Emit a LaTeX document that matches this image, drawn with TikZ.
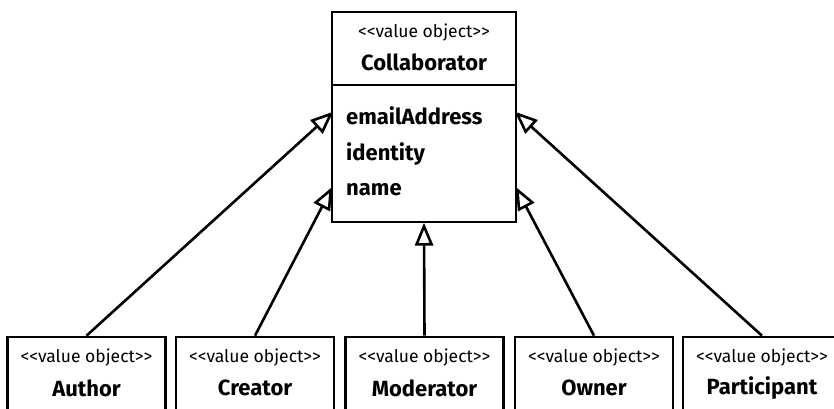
\documentclass[tikz,border=0pt]{standalone}
\usepackage{fontspec}
\setmainfont{Fira Sans}[Ligatures=NoCommon]
\usetikzlibrary{calc}
\newcommand{\stereotxt}{<{}<value object>{}>}
\tikzset{
  box/.style={draw, line width=2.6pt, minimum width=158pt, minimum height=90pt, inner sep=0pt},
  stereo/.style={font=\fontsize{17.5}{20}\selectfont, inner sep=0pt},
  cname/.style={font=\fontsize{22}{26}\selectfont\bfseries, inner sep=0pt},
  attr/.style={font=\fontsize{22}{26}\selectfont\bfseries, inner sep=0pt, anchor=west},
  conn/.style={line width=2.6pt},
  tipst/.style={line width=2.6pt, fill=white, line join=miter},
}
\begin{document}
\begin{tikzpicture}[x=1pt,y=-1pt]
\clip (0,0) rectangle (834,408);
\fill[white] (0,0) rectangle (834,408);
% Collaborator
\node[draw, line width=2.6pt, minimum width=184pt, minimum height=210pt, inner sep=0pt] (collab) at (424,117) {};
\draw[line width=2.6pt] (collab.west |- 0,85) coordinate (divl) -- (collab.east |- 0,85) coordinate (divr);
\node[stereo] (cst) at (424,33) {\stereotxt};
\node[cname] (cnm) at (424,62) {Collaborator};
\node[attr] (a1) at (346,116) {emailAddress};
\node[attr] (a2) at (346,154) {identity};
\node[attr] (a3) at (346,190) {name};
% children
\foreach \n/\x/\t in {author/86.5/Author, creator/255/Creator, moderator/424.5/Moderator, owner/594/Owner, participant/762/Participant}{
  \node[box] (\n) at (\x,382) {};
  \node[stereo] (\n s) at (\x,358) {\stereotxt};
  \node[cname] (\n n) at (\x,388) {\t};
}
\coordinate (tl1) at (collab.west |- 0,114);
\coordinate (tl2) at (collab.west |- 0,190);
\coordinate (tr1) at (collab.east |- 0,114);
\coordinate (tr2) at (collab.east |- 0,190);
\coordinate (tm) at ($(collab.south)+(0,3)$);
\foreach \s/\e in {author/tl1, creator/tl2, moderator/tm, owner/tr2, participant/tr1}{
  \coordinate (B) at ($(\e)!18pt!(\s.north)$);
  \draw[conn] (\s.north) -- (B);
  \draw[tipst] (\e) -- ($(B)!7.5pt!90:(\e)$) -- ($(B)!7.5pt!-90:(\e)$) -- cycle;
}
\end{tikzpicture}
\end{document}
